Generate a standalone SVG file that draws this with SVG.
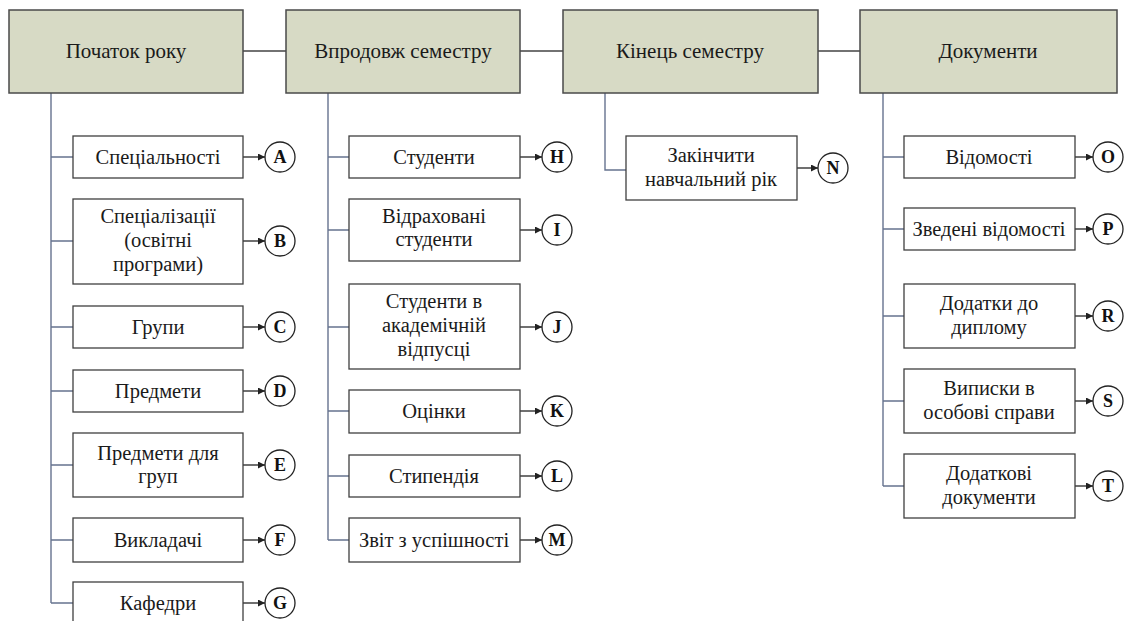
<svg xmlns="http://www.w3.org/2000/svg" width="1131" height="621" viewBox="0 0 1131 621">
<style>
.hdr{fill:#d7dac5;stroke:#4a4a4a;stroke-width:1.5}
.box{fill:#ffffff;stroke:#3f3f3f;stroke-width:1.3}
.t{font-family:"Liberation Serif","Times New Roman",serif;font-size:20.5px;fill:#1a1a1a;text-anchor:middle}
.ht{font-family:"Liberation Serif","Times New Roman",serif;font-size:21px;fill:#1a1a1a;text-anchor:middle}
.c{fill:#ffffff;stroke:#222;stroke-width:1.3}
.ct{font-family:"Liberation Serif","Times New Roman",serif;font-size:18px;font-weight:bold;fill:#111;text-anchor:middle}
.hl{stroke:#444;stroke-width:1.5;fill:none}
.tr{stroke:#66738f;stroke-width:1.4;fill:none}
.ar{stroke:#222;stroke-width:1.3;fill:none;marker-end:url(#ah)}
</style>
<defs>
<marker id="ah" viewBox="0 0 10 10" refX="10" refY="5" markerWidth="7" markerHeight="7" markerUnits="userSpaceOnUse" orient="auto">
<path d="M0,0 L10,5 L0,10 z" fill="#222"/>
</marker>
</defs>
<rect width="1131" height="621" fill="#ffffff"/>
<g id="connectors">
<path class="hl" d="M243,51 H286 M520,51 H563 M818,51 H860"/>
<path class="tr" d="M51,93 V603 M51,157 H73 M51,241 H73 M51,327 H73 M51,391 H73 M51,465 H73 M51,540 H73 M51,603 H73"/>
<path class="tr" d="M328,93 V540 M328,157 H349 M328,230 H349 M328,327 H349 M328,411 H349 M328,476 H349 M328,540 H349"/>
<path class="tr" d="M605,93 V170 H626"/>
<path class="tr" d="M883,93 V486 M883,157 H904 M883,229 H904 M883,316 H904 M883,401 H904 M883,486 H904"/>
<path class="ar" d="M243,157 H265"/>
<path class="ar" d="M243,241 H265"/>
<path class="ar" d="M243,327 H265"/>
<path class="ar" d="M243,391 H265"/>
<path class="ar" d="M243,465 H265"/>
<path class="ar" d="M243,540 H265"/>
<path class="ar" d="M243,603 H265"/>
<path class="ar" d="M520,157 H542"/>
<path class="ar" d="M520,230 H542"/>
<path class="ar" d="M520,327 H542"/>
<path class="ar" d="M520,411 H542"/>
<path class="ar" d="M520,476 H542"/>
<path class="ar" d="M520,540 H542"/>
<path class="ar" d="M797,168 H818"/>
<path class="ar" d="M1075,157 H1093"/>
<path class="ar" d="M1075,229 H1093"/>
<path class="ar" d="M1075,316 H1093"/>
<path class="ar" d="M1075,401 H1093"/>
<path class="ar" d="M1075,486 H1093"/>
</g>
<g id="h1"><rect class="hdr" x="9" y="10" width="234" height="83"/><text class="ht" x="126" y="58">Початок року</text></g>
<g id="h2"><rect class="hdr" x="286" y="10" width="234" height="83"/><text class="ht" x="403" y="58">Впродовж семестру</text></g>
<g id="h3"><rect class="hdr" x="563" y="10" width="255" height="83"/><text class="ht" x="690" y="58">Кінець семестру</text></g>
<g id="h4"><rect class="hdr" x="860" y="10" width="257" height="83"/><text class="ht" x="988" y="58">Документи</text></g>

<g id="n-a"><rect class="box" x="73" y="136" width="170" height="42"/><text class="t" x="158" y="164">Спеціальності</text></g>
<g id="n-b"><rect class="box" x="73" y="199" width="170" height="85"/><text class="t" x="158" y="223">Спеціалізації</text><text class="t" x="158" y="247">(освітні</text><text class="t" x="158" y="271">програми)</text></g>
<g id="n-c"><rect class="box" x="73" y="306" width="170" height="42"/><text class="t" x="158" y="334">Групи</text></g>
<g id="n-d"><rect class="box" x="73" y="370" width="170" height="42"/><text class="t" x="158" y="398">Предмети</text></g>
<g id="n-e"><rect class="box" x="73" y="433" width="170" height="64"/><text class="t" x="158" y="460">Предмети для</text><text class="t" x="158" y="483">груп</text></g>
<g id="n-f"><rect class="box" x="73" y="518" width="170" height="44"/><text class="t" x="158" y="547">Викладачі</text></g>
<g id="n-g"><rect class="box" x="73" y="582" width="170" height="44"/><text class="t" x="158" y="610">Кафедри</text></g>

<g id="n-h"><rect class="box" x="349" y="136" width="171" height="42"/><text class="t" x="434" y="164">Студенти</text></g>
<g id="n-i"><rect class="box" x="349" y="199" width="171" height="62"/><text class="t" x="434" y="223">Відраховані</text><text class="t" x="434" y="246">студенти</text></g>
<g id="n-j"><rect class="box" x="349" y="284" width="171" height="85"/><text class="t" x="434" y="308">Студенти в</text><text class="t" x="434" y="332">академічній</text><text class="t" x="434" y="356">відпусці</text></g>
<g id="n-k"><rect class="box" x="349" y="390" width="171" height="43"/><text class="t" x="434" y="418">Оцінки</text></g>
<g id="n-l"><rect class="box" x="349" y="455" width="171" height="42"/><text class="t" x="434" y="483">Стипендія</text></g>
<g id="n-m"><rect class="box" x="349" y="518" width="171" height="44"/><text class="t" x="434" y="547">Звіт з успішності</text></g>

<g id="n-n"><rect class="box" x="626" y="136" width="171" height="64"/><text class="t" x="711" y="162">Закінчити</text><text class="t" x="711" y="186">навчальний рік</text></g>

<g id="n-o"><rect class="box" x="904" y="136" width="171" height="42"/><text class="t" x="989" y="164">Відомості</text></g>
<g id="n-p"><rect class="box" x="904" y="208" width="171" height="42"/><text class="t" x="989" y="236">Зведені відомості</text></g>
<g id="n-r"><rect class="box" x="904" y="284" width="171" height="64"/><text class="t" x="989" y="310">Додатки до</text><text class="t" x="989" y="334">диплому</text></g>
<g id="n-s"><rect class="box" x="904" y="369" width="171" height="64"/><text class="t" x="989" y="395">Виписки в</text><text class="t" x="989" y="419">особові справи</text></g>
<g id="n-t"><rect class="box" x="904" y="454" width="171" height="64"/><text class="t" x="989" y="480">Додаткові</text><text class="t" x="989" y="504">документи</text></g>

<g id="c-a"><circle class="c" cx="280" cy="157" r="15"/><text class="ct" x="280" y="163">A</text></g>
<g id="c-b"><circle class="c" cx="280" cy="241" r="15"/><text class="ct" x="280" y="247">B</text></g>
<g id="c-c"><circle class="c" cx="280" cy="327" r="15"/><text class="ct" x="280" y="333">C</text></g>
<g id="c-d"><circle class="c" cx="280" cy="391" r="15"/><text class="ct" x="280" y="397">D</text></g>
<g id="c-e"><circle class="c" cx="280" cy="465" r="15"/><text class="ct" x="280" y="471">E</text></g>
<g id="c-f"><circle class="c" cx="280" cy="540" r="15"/><text class="ct" x="280" y="546">F</text></g>
<g id="c-g"><circle class="c" cx="280" cy="603" r="15"/><text class="ct" x="280" y="609">G</text></g>
<g id="c-h"><circle class="c" cx="557" cy="157" r="15"/><text class="ct" x="557" y="163">H</text></g>
<g id="c-i"><circle class="c" cx="557" cy="230" r="15"/><text class="ct" x="557" y="236">I</text></g>
<g id="c-j"><circle class="c" cx="557" cy="327" r="15"/><text class="ct" x="557" y="333">J</text></g>
<g id="c-k"><circle class="c" cx="557" cy="411" r="15"/><text class="ct" x="557" y="417">K</text></g>
<g id="c-l"><circle class="c" cx="557" cy="476" r="15"/><text class="ct" x="557" y="482">L</text></g>
<g id="c-m"><circle class="c" cx="557" cy="540" r="15"/><text class="ct" x="557" y="546">M</text></g>
<g id="c-n"><circle class="c" cx="833" cy="168" r="15"/><text class="ct" x="833" y="174">N</text></g>
<g id="c-o"><circle class="c" cx="1108" cy="157" r="15"/><text class="ct" x="1108" y="163">O</text></g>
<g id="c-p"><circle class="c" cx="1108" cy="229" r="15"/><text class="ct" x="1108" y="235">P</text></g>
<g id="c-r"><circle class="c" cx="1108" cy="316" r="15"/><text class="ct" x="1108" y="322">R</text></g>
<g id="c-s"><circle class="c" cx="1108" cy="401" r="15"/><text class="ct" x="1108" y="407">S</text></g>
<g id="c-t"><circle class="c" cx="1108" cy="486" r="15"/><text class="ct" x="1108" y="492">T</text></g>
</svg>
